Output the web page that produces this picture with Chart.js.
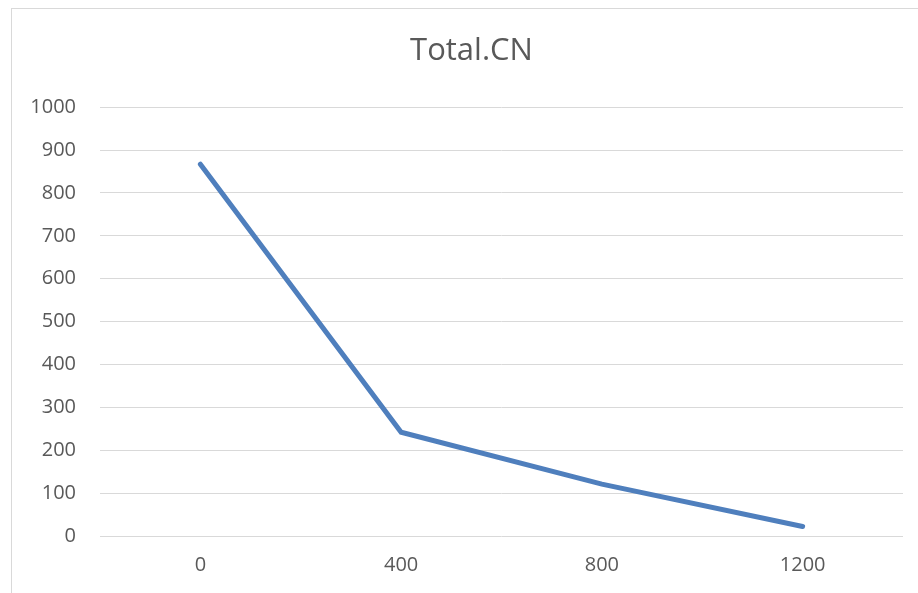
<!DOCTYPE html>
<html>
<head>
<meta charset="utf-8">
<script src="https://cdn.jsdelivr.net/npm/chart.js@4/dist/chart.umd.min.js"></script>
<style>
html,body{margin:0;padding:0;background:#fff;}
#wrap{position:relative;width:918px;height:593px;overflow:hidden;}
#frame{position:absolute;left:11px;top:8px;width:920px;height:600px;border:1px solid #d9d9d9;box-sizing:border-box;}
canvas{position:absolute;left:0;top:0;}
</style>
</head>
<body>
<div id="wrap">
<div id="frame"></div>
<canvas id="c" width="918" height="593"></canvas>
</div>
<script>
const chartTitle = "Total.CN";
const categories = ["0", "400", "800", "1200"];
const values = [867, 242, 121, 22];
const yTicks = [0, 100, 200, 300, 400, 500, 600, 700, 800, 900, 1000];

const fontFam = "'Open Sans', sans-serif";
const shiftTitle = {
  id: 'shiftTitle',
  afterLayout(chart) {
    const tb = chart.titleBlock;
    if (tb) { tb.left += 20; tb.right += 20; }
  }
};
new Chart(document.getElementById('c'), {
  type: 'line',
  data: {
    labels: categories,
    datasets: [{
      label: chartTitle,
      data: values,
      borderColor: '#4F7FBD',
      borderWidth: 5,
      borderCapStyle: 'round',
      borderJoinStyle: 'miter',
      pointRadius: 0,
      tension: 0,
      fill: false
    }]
  },
  options: {
    responsive: false,
    animation: false,
    devicePixelRatio: 1,
    layout: { padding: { left: 0, right: 15, top: 0, bottom: 0 } },
    plugins: {
      legend: { display: false },
      tooltip: { enabled: false },
      title: {
        display: true,
        text: chartTitle,
        color: '#595959',
        font: { family: fontFam, size: 31, weight: 'normal', lineHeight: 1.2 },
        padding: { top: 33, bottom: 37 }
      }
    },
    scales: {
      x: {
        offset: true,
        grid: { display: false, drawTicks: false },
        border: { display: false },
        ticks: { color: '#595959', font: { family: fontFam, size: 20, lineHeight: 1.2 }, padding: 17, maxRotation: 0 },
        afterFit: s => { s.height = 57; }
      },
      y: {
        min: 0, max: 1000,
        afterBuildTicks: s => { s.ticks = yTicks.map(v => ({ value: v })); },
        grid: { color: '#d9d9d9', lineWidth: 1, drawTicks: false },
        border: { display: false },
        ticks: { color: '#595959', font: { family: fontFam, size: 20 }, padding: 24, callback: v => String(v) },
        afterFit: s => { s.width = 100; }
      }
    }
  },
  plugins: [shiftTitle]
});
</script>
</body>
</html>
